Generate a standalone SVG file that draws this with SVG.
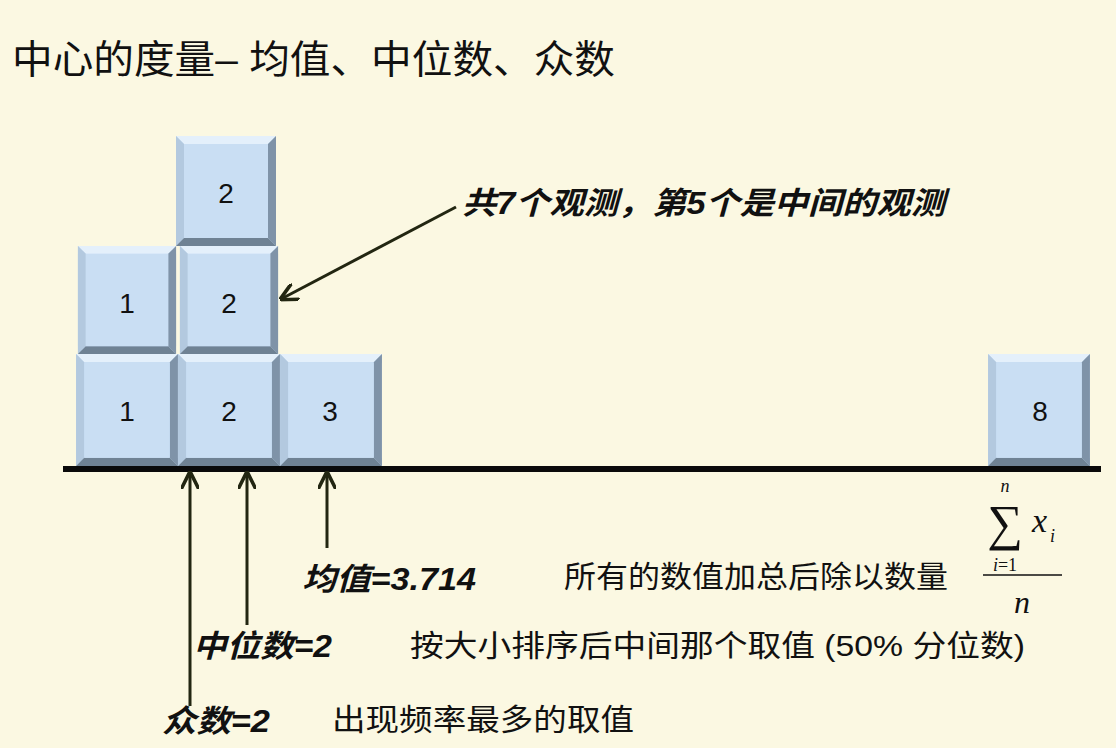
<svg xmlns="http://www.w3.org/2000/svg" xmlns:xlink="http://www.w3.org/1999/xlink" width="1116" height="748" viewBox="0 0 1116 748">
<style>
.t{font-family:"Liberation Sans","Noto Sans CJK SC",sans-serif;fill:#111}
.n{font-size:28px;text-anchor:middle}
.lab{font-size:31px;font-weight:bold;font-style:italic}
.m{font-family:"Liberation Serif",serif;font-style:italic;fill:#111}
.c{stroke:#222611;stroke-width:3;fill:none;marker-end:url(#ah)}
</style>
<defs>
<marker id="ah" viewBox="0 0 10 10" refX="8" refY="5" markerWidth="6" markerHeight="6" orient="auto" markerUnits="strokeWidth"><path d="M0,0 L10,5 L0,10" fill="none" stroke="#222611" stroke-width="2"/></marker>
<symbol id="blk" viewBox="0 0 100 110" width="100" height="110" overflow="visible">
<rect x="0" y="0" width="100" height="110" fill="#c6dcf2"/>
<polygon points="0,0 100,0 92,8 8,8" fill="#e4f0fb"/>
<polygon points="0,0 8,8 8,102 0,110" fill="#b3c9df"/>
<polygon points="100,0 100,110 92,102 92,8" fill="#7f93a8"/>
<polygon points="0,110 100,110 92,102 8,102" fill="#6f8294"/>
<rect x="8" y="8" width="84" height="94" fill="#c9def3"/>
</symbol>
</defs>
<rect width="1116" height="748" fill="#fbf8e2"/>
<text class="t" x="12" y="73" font-size="39" textLength="603" lengthAdjust="spacingAndGlyphs">中心的度量– 均值、中位数、众数</text>
<g id="b1"><use xlink:href="#blk" x="76" y="354" width="102" height="112"/><text class="t n" x="127" y="421">1</text></g>
<g id="b2"><use xlink:href="#blk" x="76" y="246" width="102" height="108"/><text class="t n" x="127" y="313">1</text></g>
<g id="b3"><use xlink:href="#blk" x="178" y="354" width="102" height="112"/><text class="t n" x="229" y="421">2</text></g>
<g id="b4"><use xlink:href="#blk" x="178" y="246" width="102" height="108"/><text class="t n" x="229" y="313">2</text></g>
<g id="b5"><use xlink:href="#blk" x="175" y="136" width="102" height="110"/><text class="t n" x="226" y="203">2</text></g>
<g id="b6"><use xlink:href="#blk" x="280" y="354" width="102" height="112"/><text class="t n" x="330" y="421">3</text></g>
<g id="b7"><use xlink:href="#blk" x="988" y="354" width="102" height="112"/><text class="t n" x="1040" y="421">8</text></g>
<rect x="63" y="466" width="1038" height="6" fill="#0a0a0a"/>
<g id="connectors">
<line class="c" x1="456" y1="207" x2="283" y2="298"/>
<line class="c" x1="190" y1="706" x2="190" y2="475"/>
<line class="c" x1="247" y1="625" x2="247" y2="475"/>
<line class="c" x1="327" y1="548" x2="327" y2="475"/>
</g>
<text class="t lab" x="462" y="214" textLength="483" lengthAdjust="spacingAndGlyphs">共7个观测，第5个是中间的观测</text>
<text class="t lab" x="302" y="590" textLength="174" lengthAdjust="spacingAndGlyphs">均值=3.714</text>
<text class="t lab" x="193" y="657" textLength="139" lengthAdjust="spacingAndGlyphs">中位数=2</text>
<text class="t lab" x="162" y="732" textLength="108" lengthAdjust="spacingAndGlyphs">众数=2</text>
<text class="t" x="564" y="587" font-size="30" textLength="384" lengthAdjust="spacingAndGlyphs">所有的数值加总后除以数量</text>
<text class="t" x="410" y="656" font-size="30" textLength="615" lengthAdjust="spacingAndGlyphs">按大小排序后中间那个取值 (50% 分位数)</text>
<text class="t" x="332" y="730" font-size="30" textLength="302" lengthAdjust="spacingAndGlyphs">出现频率最多的取值</text>
<g id="formula">
<text class="m" x="1005" y="492" font-size="18" text-anchor="middle">n</text>
<text class="m" x="1005" y="540" font-size="50" font-style="normal" text-anchor="middle">∑</text>
<text class="m" x="1032" y="532" font-size="34">x</text>
<text class="m" x="1050" y="542" font-size="18">i</text>
<text class="m" x="1005" y="571" font-size="18" text-anchor="middle">i<tspan font-style="normal">=1</tspan></text>
<line x1="983" y1="575" x2="1062" y2="575" stroke="#111" stroke-width="1.5"/>
<text class="m" x="1022" y="613" font-size="32" text-anchor="middle">n</text>
</g>
</svg>
